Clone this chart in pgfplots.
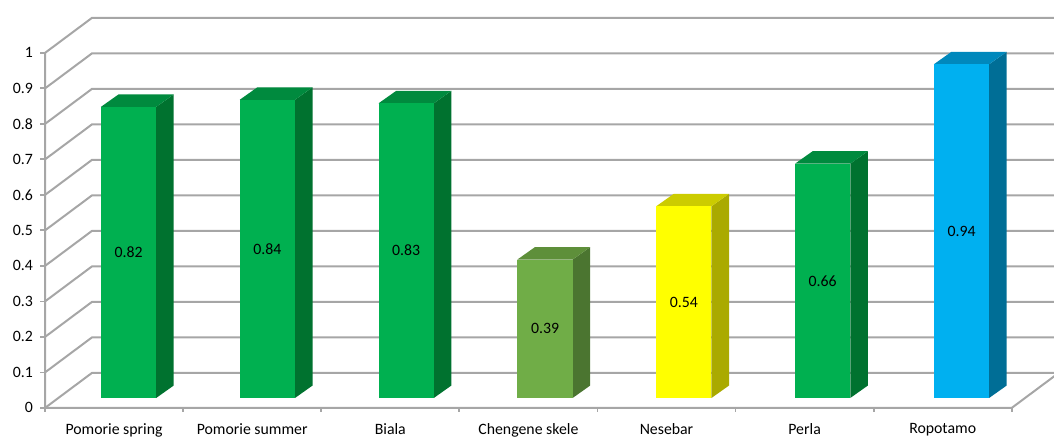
\documentclass[border=0pt]{standalone}
\usepackage{pgfplots}
\pgfplotsset{compat=1.18}
\usepackage{fontspec}
\setmainfont{Carlito}
\definecolor{gridc}{HTML}{A6A6A6}
\definecolor{gF}{HTML}{00B050}\definecolor{gS}{HTML}{00722F}\definecolor{gT}{HTML}{008A3E}
\definecolor{lF}{HTML}{70AD47}\definecolor{lS}{HTML}{4B7530}\definecolor{lT}{HTML}{5E8F3A}
\definecolor{yF}{HTML}{FFFF00}\definecolor{yS}{HTML}{AAAA00}\definecolor{yT}{HTML}{CCCC00}
\definecolor{bF}{HTML}{00B0F0}\definecolor{bS}{HTML}{006E96}\definecolor{bT}{HTML}{0088BC}
\tikzset{lab/.style={font=\fontsize{7.9}{9}\selectfont, text=black}}
\begin{document}
\begin{tikzpicture}
\begin{axis}[
  scale only axis, width=483.35pt, height=177.5pt,
  xmin=0, xmax=7, ymin=0, ymax=1, clip=false,
  axis x line*=bottom, axis y line*=left,
  axis line style={draw=none},
  ytick={0,0.1,0.2,0.3,0.4,0.5,0.6,0.7,0.8,0.9,1},
  xtick={0.5,1.5,2.5,3.5,4.5,5.5,6.5},
  xticklabels={Pomorie spring,Pomorie summer,Biala,Chengene skele,Nesebar,Perla,Ropotamo},
  xtick style={draw=none},
  ytick style={gridc, line width=0.9pt},
  tick align=outside, major tick length=2.5pt,
  /pgf/number format/assume math mode=true,
  ticklabel style={font=\fontsize{7.9}{9}\selectfont},
  xticklabel style={yshift=-1.8pt},
  scaled ticks=false,
]
% walls and floor
\foreach \k in {0,...,10}{
  \pgfmathsetmacro\y{\k/10}
  \pgfmathsetmacro\yb{\k/10+0.0986}
  \edef\tmp{\noexpand\addplot[gridc, line width=1pt] coordinates {(0,\y)(0.34,\yb)(7.4,\yb)};}
  \tmp
}
\addplot[gridc, line width=1pt] coordinates {(0,1)(0,0)(7,0)(7.34,0.0986)};
\addplot[gridc, line width=0.9pt, ycomb] coordinates {(0,-0.012)(1,-0.012)(2,-0.012)(3,-0.012)(4,-0.012)(5,-0.012)(6,-0.012)(7,-0.012)};
% bars
\foreach \i/\v/\cf/\cs/\ct in {0/0.82/gF/gS/gT,1/0.84/gF/gS/gT,2/0.83/gF/gS/gT,3/0.39/lF/lS/lT,4/0.54/yF/yS/yT,5/0.66/gF/gS/gT,6/0.94/bF/bS/bT}{
  \pgfmathsetmacro\c{\i+0.5+0.105+0.0052*\i}
  \pgfmathsetmacro\L{\c-0.2}
  \pgfmathsetmacro\R{\c+0.2}
  \pgfmathsetmacro\T{\v+0.028}
  \pgfmathsetmacro\Rd{\c+0.2+0.127}
  \pgfmathsetmacro\Ld{\c-0.2+0.127}
  \pgfmathsetmacro\Td{\v+0.028+0.035}
  \pgfmathsetmacro\M{(\v+0.056)/2}
  \edef\tmp{%
    \noexpand\addplot[fill=\cs, draw=none] coordinates {(\R,0.028)(\Rd,0.063)(\Rd,\Td)(\R,\T)};
    \noexpand\addplot[fill=\ct, draw=none] coordinates {(\L,\T)(\R,\T)(\Rd,\Td)(\Ld,\Td)};
    \noexpand\addplot[fill=\cf, draw=none] coordinates {(\L,0.028)(\R,0.028)(\R,\T)(\L,\T)};
    \noexpand\node[lab] at (axis cs:\c,\M) {\v};
  }\tmp
}
\coordinate (BL) at (axis cs:-0.326,-0.0817);
\coordinate (TR) at (axis cs:7.306,1.149);
\end{axis}
\pgfresetboundingbox
\useasboundingbox (BL) rectangle (TR);
\end{tikzpicture}
\end{document}
